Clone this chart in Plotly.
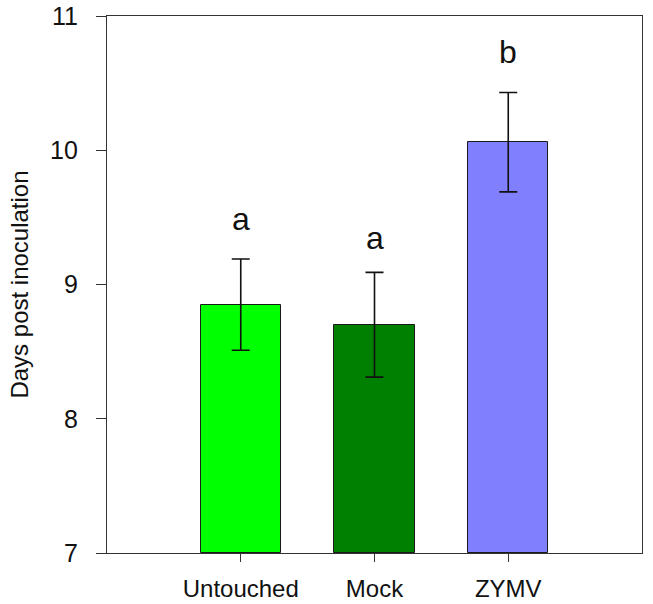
import plotly.graph_objects as go

categories = ["Untouched", "Mock", "ZYMV"]
means = [8.85, 8.70, 10.06]
errors = [0.34, 0.39, 0.37]
colors = ["#00FF00", "#008000", "#8080FF"]
letters = ["a", "a", "b"]
letter_y = [9.49, 9.35, 10.73]
y_ticks = [7, 8, 9, 10, 11]

FONT = "Liberation Sans, Arial, sans-serif"

fig = go.Figure()
fig.add_trace(go.Bar(
    x=list(range(len(categories))),
    y=[m - 7 for m in means],
    base=7,
    width=0.6,
    marker=dict(color=colors, line=dict(color="#1a1a1a", width=1)),
    error_y=dict(type="data", array=errors, color="#111111", thickness=1.6, width=9),
    showlegend=False,
    hoverinfo="skip",
))

for i, (t, yv) in enumerate(zip(letters, letter_y)):
    fig.add_annotation(x=i, y=yv, text=t, showarrow=False, xanchor="center", yanchor="middle",
                       font=dict(family=FONT, size=32, color="#111111"))

fig.update_layout(
    width=653, height=604,
    margin=dict(l=107, r=11, t=16, b=51),
    paper_bgcolor="white", plot_bgcolor="white",
    font=dict(family=FONT, size=24, color="#111111"),
    bargap=0,
)
fig.update_xaxes(
    range=[-1, 3], tickmode="array", tickvals=list(range(len(categories))), ticktext=categories,
    showline=True, linecolor="#333333", linewidth=1.3, mirror=True,
    ticks="outside", ticklen=8, tickcolor="#333333", showgrid=False, zeroline=False,
    tickfont=dict(size=24), automargin=False, ticklabelstandoff=6,
)
fig.update_yaxes(
    range=[7, 11], tickvals=y_ticks,
    showline=True, linecolor="#333333", linewidth=1.3, mirror=True,
    ticks="outside", ticklen=10, tickcolor="#333333", showgrid=False, zeroline=False,
    tickfont=dict(size=25), automargin=False, ticklabelstandoff=13,
    title=dict(text="Days post inoculation", font=dict(size=24), standoff=14),
)

fig.write_html("out.html", config={"displayModeBar": False},
               post_script="document.body.style.margin='0';document.body.style.padding='0';document.body.style.overflow='hidden';")
